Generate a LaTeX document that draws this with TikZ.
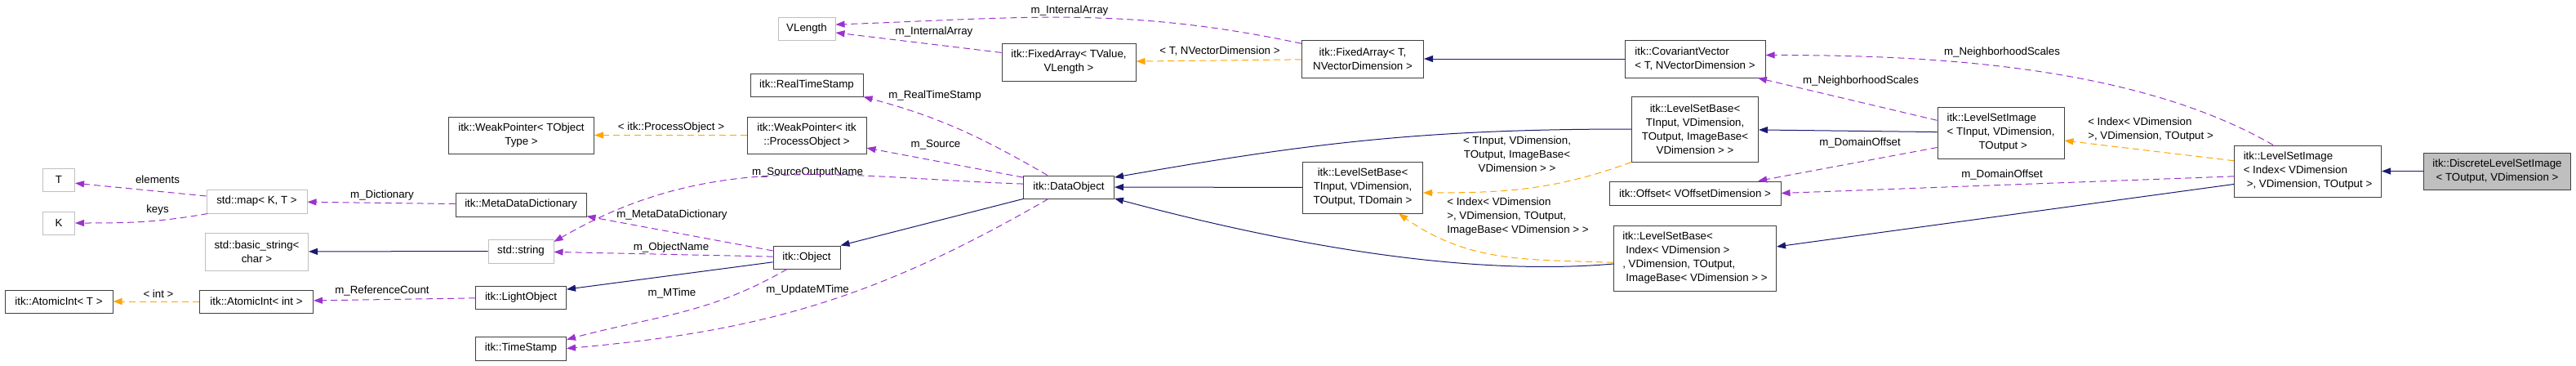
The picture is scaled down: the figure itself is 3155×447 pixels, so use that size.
\documentclass[tikz,border=0pt]{standalone}
\usepackage{fontspec}
\setmainfont{Liberation Sans}
\usetikzlibrary{arrows.meta}
\definecolor{inhcol}{HTML}{191970}
\definecolor{tplcol}{HTML}{FFA500}
\definecolor{usecol}{HTML}{9A32CD}
\definecolor{boxline}{HTML}{404040}
\definecolor{extline}{HTML}{BFBFBF}
\definecolor{curfill}{HTML}{BFBFBF}
\newcommand\dxfont{\fontsize{13.3}{17}\selectfont}

\begin{document}
\begin{tikzpicture}[x=1pt, y=1pt,
        cls/.style={draw=boxline, line width=1pt, fill=white, inner sep=2pt,
                    font=\dxfont, align=center},
        ext/.style={cls, draw=extline},
        cur/.style={cls, fill=curfill},
        lbl/.style={font=\dxfont, inner sep=0pt, align=center},
        inh/.style={draw=inhcol, line width=1pt, -{Triangle[length=11pt,width=8pt]}},
        tpl/.style={inh, draw=tplcol, dash pattern=on 8pt off 5pt},
        usage/.style={inh, draw=usecol, dash pattern=on 8pt off 5pt}]
      \useasboundingbox (0,0) rectangle (3155,-447);
      \node[ext, minimum width=39pt, minimum height=28pt]  (tnode)    at (72,-220)     {T};
      \node[ext, minimum width=39pt, minimum height=28pt]  (knode)    at (72,-273)     {K};
      \node[ext, minimum width=123pt, minimum height=29pt] (stdmap)   at (314.5,-246.5) {std::map< K, T >};
      \node[ext, minimum width=126pt, minimum height=46pt] (basicstr) at (314.5,-308)  {std::basic\_string<\\char >};
      \node[cls, minimum width=132pt, minimum height=28pt] (atomt)    at (72,-369)     {itk::AtomicInt< T >};
      \node[cls, minimum width=139pt, minimum height=28pt] (atomint)  at (314,-369)    {itk::AtomicInt< int >};
      \node[ext, minimum width=70pt, minimum height=28pt]  (vlength)  at (988,-35)     {VLength};
      \node[cls, minimum width=138pt, minimum height=28pt] (realts)   at (988,-104)    {itk::RealTimeStamp};
      \node[cls, minimum width=178pt, minimum height=45pt] (wptmpl)   at (638.5,-165.5) {itk::WeakPointer< TObject\\Type >};
      \node[cls, minimum width=146pt, minimum height=45pt] (wpproc)   at (988,-165.5)  {itk::WeakPointer< itk\\::ProcessObject >};
      \node[cls, minimum width=160pt, minimum height=29pt] (mdd)      at (638,-250.5)  {itk::MetaDataDictionary};
      \node[ext, minimum width=80pt, minimum height=29pt]  (stdstr)   at (638,-307.5)  {std::string};
      \node[cls, minimum width=82pt, minimum height=28pt]  (object)   at (988,-315)    {itk::Object};
      \node[cls, minimum width=111pt, minimum height=28pt] (lightobj) at (638,-364)    {itk::LightObject};
      \node[cls, minimum width=111pt, minimum height=29pt] (timestamp) at (638,-426.5) {itk::TimeStamp};
      \node[cls, minimum width=164pt, minimum height=46pt] (fixval)   at (1309,-76)    {itk::FixedArray< TValue,\\VLength >};
      \node[cls, minimum width=111pt, minimum height=28pt] (dataobj)  at (1309,-229)   {itk::DataObject};
      \node[cls, minimum width=149pt, minimum height=46pt] (fixnvd)   at (1669,-72)    {itk::FixedArray< T,\\NVectorDimension >};
      \node[cls, minimum width=147pt, minimum height=63pt] (lsbdom)   at (1669,-229.5) {itk::LevelSetBase<\\TInput, VDimension,\\TOutput, TDomain >};
      \node[cls, align=left, minimum width=172pt, minimum height=46pt] (covvec) at (2076,-72) {itk::CovariantVector\\< T, NVectorDimension >};
      \node[cls, minimum width=155pt, minimum height=80pt] (lsbimg)   at (2076,-158)   {itk::LevelSetBase<\\TInput, VDimension,\\TOutput, ImageBase<\\VDimension > >};
      \node[cls, minimum width=210pt, minimum height=29pt] (offset)   at (2076,-236.5) {itk::Offset< VOffsetDimension >};
      \node[cls, align=left, minimum width=199pt, minimum height=80pt] (lsbidx) at (2076,-316) {itk::LevelSetBase<\\\hspace*{4pt}Index< VDimension >\\, VDimension, TOutput,\\\hspace*{4pt}ImageBase< VDimension > >};
      \node[cls, align=left, minimum width=155pt, minimum height=63pt] (lsiin) at (2450.5,-162.5) {itk::LevelSetImage\\< TInput, VDimension,\\\hspace*{39pt}TOutput >};
      \node[cls, align=left, minimum width=180pt, minimum height=63pt] (lsiidx) at (2826.5,-209.5) {itk::LevelSetImage\\< Index< VDimension\\\hspace*{4pt}>, VDimension, TOutput >};
      \node[cur, minimum width=180pt, minimum height=45pt] (discrete) at (3058.5,-209.5) {itk::DiscreteLevelSetImage\\< TOutput, VDimension >};
      \node[lbl] (lbelem)   at (193,-220)  {elements};
      \node[lbl] (lbkeys)   at (193,-257)  {keys};
      \node[lbl] (lbint)    at (194,-360)  {< int >};
      \node[lbl] (lbdict)   at (468,-239)  {m\_Dictionary};
      \node[lbl] (lbref)    at (468,-356)  {m\_ReferenceCount};
      \node[lbl] (lbproc)   at (822,-156)  {< itk::ProcessObject >};
      \node[lbl] (lbsrcout) at (989,-211)  {m\_SourceOutputName};
      \node[lbl] (lbmdd)    at (823,-263)  {m\_MetaDataDictionary};
      \node[lbl] (lbobjn)   at (822,-303)  {m\_ObjectName};
      \node[lbl] (lbmtime)  at (823,-359)  {m\_MTime};
      \node[lbl] (lbupd)    at (989,-355)  {m\_UpdateMTime};
      \node[lbl] (lbarr)    at (1310,-13)  {m\_InternalArray};
      \node[lbl] (lbarrb)   at (1144,-39)  {m\_InternalArray};
      \node[lbl] (lbrts)    at (1145,-117) {m\_RealTimeStamp};
      \node[lbl] (lbsrc)    at (1146,-177) {m\_Source};
      \node[lbl] (lbtnvd)   at (1494,-63)  {< T, NVectorDimension >};
      \node[lbl] (lbtin)    at (1858,-189) {< TInput, VDimension,\\TOutput, ImageBase<\\VDimension > >};
      \node[lbl, align=left] (lbidx) at (1859,-265) {< Index< VDimension\\>, VDimension, TOutput,\\ImageBase< VDimension > >};
      \node[lbl] (lbnbh)    at (2452,-64)  {m\_NeighborhoodScales};
      \node[lbl] (lbnbhb)   at (2279,-99)  {m\_NeighborhoodScales};
      \node[lbl] (lbdom)    at (2278,-175) {m\_DomainOffset};
      \node[lbl] (lbdomb)   at (2452,-214) {m\_DomainOffset};
      \node[lbl, align=left] (lbidxout) at (2634,-159) {< Index< VDimension\\>, VDimension, TOutput >};
      \draw[inh] (discrete) -- (lsiidx);
      \draw[inh] (lsiidx.190) -- (lsbidx.8);
      \draw[tpl] (lsiidx.172) -- (lsiin.-7);
      \draw[usage] (lsiidx.184) -- (offset.east);
      \draw[usage] (lsiidx.143) to[out=150, in=0, looseness=0.8] (covvec.3);
      \draw[inh] (lsiin) -- (lsbimg);
      \draw[usage] (lsiin.169) -- (covvec.-17);
      \draw[usage] (lsiin.193) -- (offset.11);
      \draw[inh] (covvec) -- (fixnvd);
      \draw[tpl] (fixnvd) -- (fixval);
      \draw[usage] (fixnvd.166) to[out=168, in=2] (vlength.8);
      \draw[usage] (fixval.172) -- (vlength.-8);
      \draw[inh] (lsbimg.west) to[out=180, in=10] (dataobj.12);
      \draw[inh] (lsbdom) -- (dataobj);
      \draw[inh] (lsbidx.184) to[out=185, in=-15, looseness=0.8] (dataobj.-14);
      \draw[tpl] (lsbimg.south west) to[out=200, in=0] (lsbdom.-5);
      \draw[tpl] (lsbidx.183) to[out=178, in=-35] (lsbdom.-36);
      \draw[inh] (dataobj.south west) -- (object.north east);
      \draw[usage] (dataobj.151) to[out=150, in=-15] (realts.south east);
      \draw[usage] (dataobj.168) -- (wpproc.-12);
      \draw[usage] (dataobj.176) to[out=178, in=30] (stdstr.16);
      \draw[usage] (dataobj.210) to[out=210, in=5] (timestamp.east);
      \draw[usage] (object.211) to[out=210, in=15] (timestamp.11);
      \draw[inh] (object.188) -- (lightobj.10);
      \draw[usage] (object.169) -- (mdd.-10);
      \draw[usage] (object) -- (stdstr);
      \draw[inh] (stdstr) -- (basicstr);
      \draw[usage] (lightobj) -- (atomint);
      \draw[tpl] (wpproc) -- (wptmpl);
      \draw[tpl] (atomint) -- (atomt);
      \draw[usage] (mdd) -- (stdmap);
      \draw[usage] (stdmap.174) -- (tnode.-12);
      \draw[usage] (stdmap.194) to[out=190, in=0] (knode.east);
    \end{tikzpicture}
\end{document}
